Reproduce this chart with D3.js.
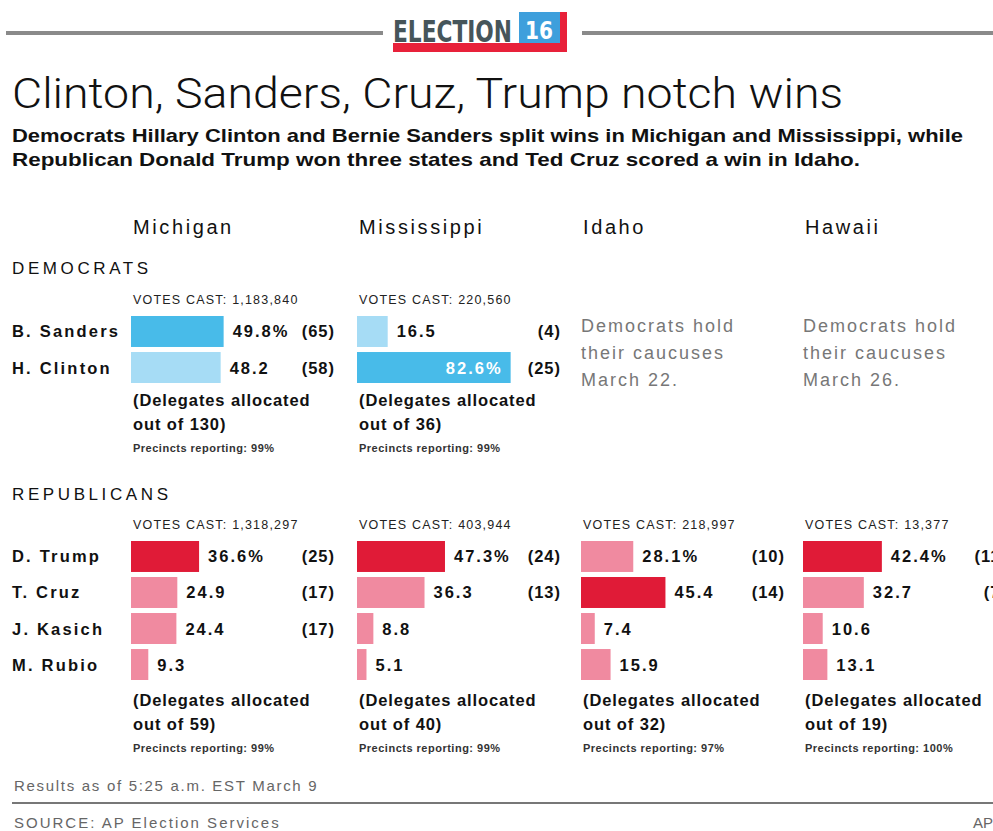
<!DOCTYPE html>
<html>
<head>
<meta charset="utf-8">
<script src="https://cdn.jsdelivr.net/npm/d3@7"></script>
<style>
  body { margin: 0; background: #fff; }
  svg { display: block; font-family: "Liberation Sans", Arial, sans-serif; }
</style>
</head>
<body>
<div id="chart"></div>
<script>
var states = ["Michigan", "Mississippi", "Idaho", "Hawaii"];

var demNames = ["B. Sanders", "H. Clinton"];
var demVotes = ["1,183,840", "220,560", null, null];
var demPct = [[49.8, 48.2], [16.5, 82.6], null, null];
var demDel = [[65, 58], [4, 25], null, null];
var demOutOf = [130, 36, null, null];
var demReporting = [99, 99, null, null];
var demNotes = [null, null,
  ["Democrats hold", "their caucuses", "March 22."],
  ["Democrats hold", "their caucuses", "March 26."]];

var gopNames = ["D. Trump", "T. Cruz", "J. Kasich", "M. Rubio"];
var gopVotes = ["1,318,297", "403,944", "218,997", "13,377"];
var gopPct = [[36.6, 24.9, 24.4, 9.3], [47.3, 36.3, 8.8, 5.1], [28.1, 45.4, 7.4, 15.9], [42.4, 32.7, 10.6, 13.1]];
var gopDel = [[25, 17, 17, null], [24, 13, null, null], [10, 14, null, null], [11, 7, null, null]];
var gopOutOf = [59, 40, 32, 19];
var gopReporting = [99, 99, 97, 100];

// which row carries the "%" sign
var demPctRow = [0, 1];
var gopPctRow = [0, 0, 0, 0];

var W = 993, H = 831;
var colX = [131, 357, 581, 803];

var svg = d3.select("#chart").append("svg")
  .attr("width", W).attr("height", H);

svg.append("rect").attr("width", W).attr("height", H).attr("fill", "#fff");

// ---- header logo
svg.append("rect").attr("x", 6).attr("y", 31).attr("width", 377).attr("height", 4).attr("fill", "#8a8a8a");
svg.append("rect").attr("x", 582).attr("y", 31).attr("width", 411).attr("height", 4).attr("fill", "#8a8a8a");

var logo = svg.append("g");
logo.append("rect").attr("x", 393).attr("y", 43).attr("width", 174).attr("height", 9).attr("fill", "#e8213a");
logo.append("rect").attr("x", 519).attr("y", 12).attr("width", 48).attr("height", 40).attr("fill", "#e8213a");
logo.append("rect").attr("x", 519).attr("y", 12).attr("width", 41).attr("height", 31).attr("fill", "#3e9fdc");

// squeeze the wordmark horizontally to fit its box
function squeezed(txt, x0, y0, size, width, color) {
  var t = logo.append("text")
    .attr("font-family", "'DejaVu Sans Condensed', 'DejaVu Sans', sans-serif")
    .attr("font-weight", "bold").attr("font-size", size)
    .attr("fill", color).text(txt);
  var w = t.node().getComputedTextLength();
  t.attr("transform", "translate(" + x0 + "," + y0 + ") scale(" + (width / w) + ",1)");
}
squeezed("ELECTION", 393, 42, 31, 119, "#46555a");
squeezed("16", 525, 39, 25, 28, "#fff");

// ---- title and chatter
svg.append("text").attr("x", 12).attr("y", 108)
  .attr("font-size", 43).attr("font-family", "Roboto, 'Liberation Sans', sans-serif").attr("font-weight", 300)
  .attr("textLength", 831).attr("lengthAdjust", "spacingAndGlyphs")
  .attr("fill", "#111").text("Clinton, Sanders, Cruz, Trump notch wins");

var chatter = ["Democrats Hillary Clinton and Bernie Sanders split wins in Michigan and Mississippi, while",
  "Republican Donald Trump won three states and Ted Cruz scored a win in Idaho."];
var chatterLen = [951, 848];
chatter.forEach(function(t, i) {
  svg.append("text").attr("x", 12).attr("y", 142 + i * 24)
    .attr("font-size", 19).attr("font-weight", "bold")
    .attr("textLength", chatterLen[i]).attr("lengthAdjust", "spacingAndGlyphs")
    .attr("fill", "#111").text(t);
});

// ---- state headers
svg.selectAll(".state").data(states).enter().append("text")
  .attr("class", "state")
  .attr("x", function(d, i) { return colX[i] + 2; })
  .attr("y", 234)
  .attr("font-size", 20).attr("letter-spacing", 2.6)
  .attr("fill", "#111")
  .text(function(d) { return d; });

var x = d3.scaleLinear().domain([0, 100]).range([0, 186]);

function drawParty(opts) {
  var g = svg.append("g");

  g.append("text").attr("x", 12).attr("y", opts.labelY)
    .attr("font-size", 17).attr("letter-spacing", 3.6).attr("fill", "#111")
    .text(opts.party);

  var y = d3.scaleBand().domain(opts.names)
    .range([opts.top, opts.top + 36 * opts.names.length - 5])
    .paddingInner(0.14);

  // candidate names
  g.selectAll(".name").data(opts.names).enter().append("text")
    .attr("x", 12)
    .attr("y", function(d) { return y(d) + y.bandwidth() / 2 + 6; })
    .attr("font-size", 16.5).attr("font-weight", "bold").attr("letter-spacing", 2.2)
    .attr("fill", "#111")
    .text(function(d) { return d; });

  states.forEach(function(s, si) {
    var cx = colX[si];
    var col = g.append("g").attr("transform", "translate(" + cx + ",0)");

    if (opts.pct[si] == null) {
      if (opts.notes && opts.notes[si]) {
        col.selectAll(".note").data(opts.notes[si]).enter().append("text")
          .attr("x", 0)
          .attr("y", function(d, i) { return opts.top + 16 + i * 27; })
          .attr("font-size", 18).attr("letter-spacing", 2)
          .attr("fill", "#777")
          .text(function(d) { return d; });
      }
      return;
    }

    var vals = opts.pct[si];
    var maxV = d3.max(vals);
    var rows = opts.names.map(function(n, i) {
      return { name: n, v: vals[i], del: opts.del[si][i], i: i };
    });

    col.append("text").attr("x", 2).attr("y", opts.top - 12)
      .attr("font-size", 12.5).attr("letter-spacing", 1.2).attr("fill", "#222")
      .text("VOTES CAST: " + opts.votes[si]);

    col.selectAll("rect").data(rows).enter().append("rect")
      .attr("x", 0)
      .attr("y", function(d) { return y(d.name); })
      .attr("width", function(d) { return x(d.v); })
      .attr("height", y.bandwidth())
      .attr("fill", function(d) { return d.v === maxV ? opts.colors[0] : opts.colors[1]; });

    col.selectAll(".val").data(rows).enter().append("text")
      .attr("class", "val")
      .attr("x", function(d) { return d.v > 70 ? x(d.v) - 8 : x(d.v) + 9; })
      .attr("y", function(d) { return y(d.name) + y.bandwidth() / 2 + 6; })
      .attr("text-anchor", function(d) { return d.v > 70 ? "end" : "start"; })
      .attr("font-size", 16.5).attr("font-weight", "bold").attr("letter-spacing", 2)
      .attr("fill", function(d) { return d.v > 70 ? "#fff" : "#111"; })
      .text(function(d) { return d.v.toFixed(1) + (d.i === opts.pctRow[si] ? "%" : ""); });

    col.selectAll(".del").data(rows.filter(function(d) { return d.del != null; })).enter().append("text")
      .attr("class", "del")
      .attr("x", 204)
      .attr("y", function(d) { return y(d.name) + y.bandwidth() / 2 + 6; })
      .attr("text-anchor", "end")
      .attr("font-size", 16.5).attr("font-weight", "bold").attr("letter-spacing", 1)
      .attr("fill", "#111")
      .text(function(d) { return "(" + d.del + ")"; });

    var foot = opts.top + 36 * opts.names.length + opts.footGap;
    col.append("text").attr("x", 2).attr("y", foot)
      .attr("font-size", 16.5).attr("font-weight", "bold").attr("letter-spacing", 0.9).attr("fill", "#111")
      .text("(Delegates allocated");
    col.append("text").attr("x", 2).attr("y", foot + 24)
      .attr("font-size", 16.5).attr("font-weight", "bold").attr("letter-spacing", 0.9).attr("fill", "#111")
      .text("out of " + opts.outOf[si] + ")");
    col.append("text").attr("x", 2).attr("y", foot + 46)
      .attr("font-size", 11).attr("font-weight", "bold").attr("letter-spacing", 0.5).attr("fill", "#333")
      .text("Precincts reporting: " + opts.reporting[si] + "%");
  });
}

drawParty({
  party: "DEMOCRATS", labelY: 274, top: 316, footGap: 18,
  names: demNames, pct: demPct, del: demDel, votes: demVotes,
  outOf: demOutOf, reporting: demReporting, notes: demNotes,
  pctRow: demPctRow, colors: ["#48bbe9", "#a6dcf5"]
});

drawParty({
  party: "REPUBLICANS", labelY: 500, top: 541, footGap: 21,
  names: gopNames, pct: gopPct, del: gopDel, votes: gopVotes,
  outOf: gopOutOf, reporting: gopReporting,
  pctRow: gopPctRow, colors: ["#e01b37", "#f08aa0"]
});

// ---- footer
svg.append("text").attr("x", 14).attr("y", 791)
  .attr("font-size", 15).attr("letter-spacing", 1.7).attr("fill", "#666")
  .text("Results as of 5:25 a.m. EST March 9");
svg.append("rect").attr("x", 12).attr("y", 802).attr("width", 981).attr("height", 2).attr("fill", "#777");
svg.append("text").attr("x", 14).attr("y", 828)
  .attr("font-size", 15).attr("letter-spacing", 2).attr("fill", "#666")
  .text("SOURCE: AP Election Services");
svg.append("text").attr("x", 973).attr("y", 828)
  .attr("font-size", 15).attr("fill", "#666")
  .text("AP");
</script>
</body>
</html>
